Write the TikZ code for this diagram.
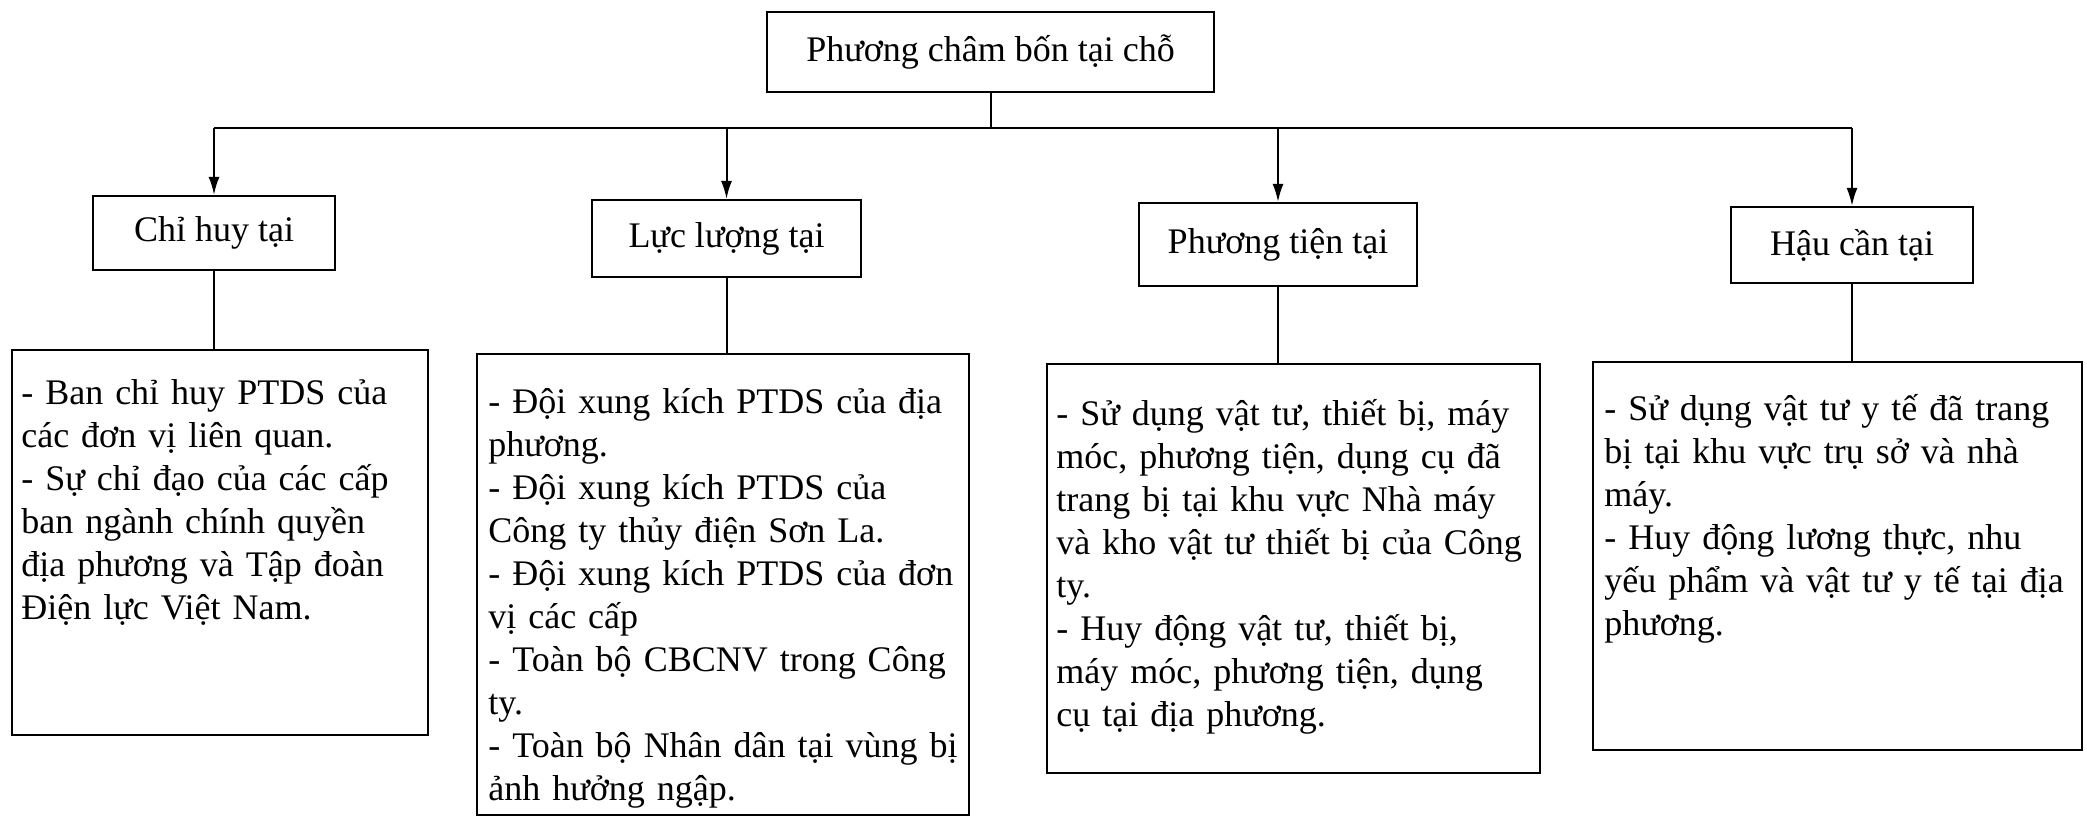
\documentclass[tikz,border=0pt]{standalone}
\usepackage{fontspec}
\setmainfont{Liberation Serif}
\usetikzlibrary{arrows.meta}
\begin{document}
\begin{tikzpicture}[x=0.5pt,y=-0.5pt,
  box/.style={draw, line width=1.1pt, inner sep=0pt, font=\fontsize{18}{21.5}\selectfont},
  body/.style={inner sep=0pt, anchor=north west, text width=300pt, align=left, font=\fontsize{18}{21.5}\selectfont},
  link/.style={line width=1pt},
  arr/.style={link, -{Latex[length=9pt,width=5.5pt]}}]
\useasboundingbox (0,0) rectangle (2087,820);
% top
\node[box, minimum width=223.5pt, minimum height=40pt] (T) at (990.5,52) {Phương châm bốn tại chỗ};
% level 2
\node[box, minimum width=121pt, minimum height=37pt] (C1) at (214,233) {Chỉ huy tại};
\node[box, minimum width=134.5pt, minimum height=38.5pt] (C2) at (726.5,238.5) {Lực lượng tại};
\node[box, minimum width=139pt, minimum height=41.5pt] (C3) at (1278,244.5) {Phương tiện tại};
\node[box, minimum width=121pt, minimum height=38pt] (C4) at (1852,245) {Hậu cần tại};
% content boxes
\node[box, minimum width=208pt, minimum height=192.5pt] (D1) at (220,542.5) {};
\node[box, minimum width=246pt, minimum height=230.5pt] (D2) at (723,584.5) {};
\node[box, minimum width=246.5pt, minimum height=204.5pt] (D3) at (1293.5,568.5) {};
\node[box, minimum width=244.5pt, minimum height=194pt] (D4) at (1837.5,556) {};
% texts
\node[body] (t1) at ([xshift=5pt,yshift=-7.5pt]D1.north west) {\rule{0pt}{20pt}- Ban chỉ huy PTDS của\\
các đơn vị liên quan.\\
- Sự chỉ đạo của các cấp\\
ban ngành chính quyền\\
địa phương và Tập đoàn\\
Điện lực Việt Nam.};
\node[body] (t2) at ([xshift=6pt,yshift=-10pt]D2.north west) {\rule{0pt}{20pt}- Đội xung kích PTDS của địa\\
phương.\\
- Đội xung kích PTDS của\\
Công ty thủy điện Sơn La.\\
- Đội xung kích PTDS của đơn\\
vị các cấp\\
- Toàn bộ CBCNV trong Công\\
ty.\\
- Toàn bộ Nhân dân tại vùng bị\\
ảnh hưởng ngập.};
\node[body] (t3) at ([xshift=5pt,yshift=-11pt]D3.north west) {\rule{0pt}{20pt}- Sử dụng vật tư, thiết bị, máy\\
móc, phương tiện, dụng cụ đã\\
trang bị tại khu vực Nhà máy\\
và kho vật tư thiết bị của Công\\
ty.\\
- Huy động vật tư, thiết bị,\\
máy móc, phương tiện, dụng\\
cụ tại địa phương.};
\node[body] (t4) at ([xshift=6pt,yshift=-9.5pt]D4.north west) {\rule{0pt}{20pt}- Sử dụng vật tư y tế đã trang\\
bị tại khu vực trụ sở và nhà\\
máy.\\
- Huy động lương thực, nhu\\
yếu phẩm và vật tư y tế tại địa\\
phương.};
% connectors
\coordinate (bus) at (990.5,128);
\draw[link] (T.south) -- (bus);
\draw[link] (C1.north |- bus) -- (C4.north |- bus);
\draw[arr] (C1.north |- bus) -- (C1.north);
\draw[arr] (C2.north |- bus) -- (C2.north);
\draw[arr] (C3.north |- bus) -- (C3.north);
\draw[arr] (C4.north |- bus) -- (C4.north);
\draw[link] (C1.south) -- (C1.south |- D1.north);
\draw[link] (C2.south) -- (C2.south |- D2.north);
\draw[link] (C3.south) -- (C3.south |- D3.north);
\draw[link] (C4.south) -- (C4.south |- D4.north);
\end{tikzpicture}
\end{document}
